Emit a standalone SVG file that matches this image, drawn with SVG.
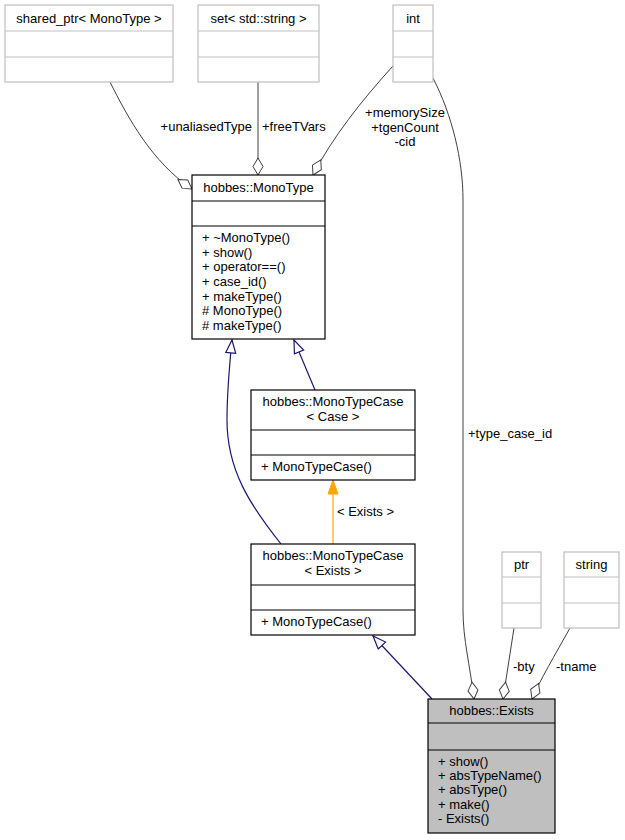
<svg xmlns="http://www.w3.org/2000/svg" width="625" height="840" viewBox="0 0 625 840">
<style>
text{font-family:"Liberation Sans",Arial,sans-serif;font-size:13px;fill:#000}
.c{text-anchor:middle}
.e{text-anchor:end}
.box{fill:#fff;stroke:#000;stroke-width:1.2}
.gbox{fill:#fff;stroke:#bfbfbf;stroke-width:1.2}
.cur{fill:#bfbfbf;stroke:#000;stroke-width:1.2}
.ln{stroke:#000;stroke-width:1.2}
.gln{stroke:#bfbfbf;stroke-width:1.2}
.use{fill:none;stroke:#404040;stroke-width:1;marker-end:url(#dia)}
.inh{fill:none;stroke:#191970;stroke-width:1.2;marker-end:url(#tri)}
.tmpl{fill:none;stroke:#ffa500;stroke-width:1.2;marker-end:url(#otri)}
</style>
<defs>
<marker id="tri" markerUnits="userSpaceOnUse" markerWidth="16" markerHeight="14" viewBox="0 0 16 14" refX="14" refY="7" orient="auto"><path d="M1,2 L14,7 L1,12 Z" fill="#fff" stroke="#191970" stroke-width="1.2"/></marker>
<marker id="otri" markerUnits="userSpaceOnUse" markerWidth="16" markerHeight="14" viewBox="0 0 16 14" refX="15" refY="7" orient="auto"><path d="M1,2 L15,7 L1,12 Z" fill="#ffa500" stroke="#ffa500" stroke-width="1"/></marker>
<marker id="dia" markerUnits="userSpaceOnUse" markerWidth="20" markerHeight="14" viewBox="0 0 20 14" refX="18" refY="7" orient="auto"><path d="M1,7 L9.5,2 L18,7 L9.5,12 Z" fill="#fff" stroke="#404040" stroke-width="1"/></marker>
</defs>

<g id="connectors">
<path class="use" d="M110,82 C128,118 152,162 192,189"/>
<path class="use" d="M258,82 L258,175"/>
<path class="use" d="M393,66 C362,100 332,138 313,175"/>
<path class="use" d="M433,78 C452,115 463,160 463,200 L463,610 C463,640 470,665 474,699"/>
<path class="use" d="M514,628 L503,699"/>
<path class="use" d="M570,628 C555,655 540,680 532,699"/>
<path class="inh" d="M315,390 L294,340"/>
<path class="inh" d="M281,544 C250,505 227,470 227,420 C227,390 229,370 232,340"/>
<path class="inh" d="M432,699 L373,636"/>
<path class="tmpl" d="M333,544 L333,480"/>
<text class="e" x="252" y="131">+unaliasedType</text>
<text x="262" y="131">+freeTVars</text>
<text class="c" x="405" y="117">+memorySize</text>
<text class="c" x="405" y="132">+tgenCount</text>
<text class="c" x="405" y="146">-cid</text>
<text x="468" y="438">+type_case_id</text>
<text x="337" y="516">&lt; Exists &gt;</text>
<text x="513" y="671">-bty</text>
<text x="556" y="671">-tname</text>
</g>

<g id="shared_ptr">
<rect class="gbox" x="5" y="5" width="168" height="77"/>
<line class="gln" x1="5" y1="31" x2="173" y2="31"/>
<line class="gln" x1="5" y1="57" x2="173" y2="57"/>
<text class="c" x="89" y="23">shared_ptr&lt; MonoType &gt;</text>
</g>

<g id="set_string">
<rect class="gbox" x="198" y="5" width="121" height="77"/>
<line class="gln" x1="198" y1="31" x2="319" y2="31"/>
<line class="gln" x1="198" y1="57" x2="319" y2="57"/>
<text class="c" x="258.5" y="23">set&lt; std::string &gt;</text>
</g>

<g id="int">
<rect class="gbox" x="393" y="5" width="40" height="77"/>
<line class="gln" x1="393" y1="31" x2="433" y2="31"/>
<line class="gln" x1="393" y1="57" x2="433" y2="57"/>
<text class="c" x="413" y="23">int</text>
</g>

<g id="MonoType">
<rect class="box" x="192" y="175" width="133" height="164"/>
<line class="ln" x1="192" y1="201" x2="325" y2="201"/>
<line class="ln" x1="192" y1="226" x2="325" y2="226"/>
<text class="c" x="258.5" y="192">hobbes::MonoType</text>
<text x="202" y="242">+ ~MonoType()</text>
<text x="202" y="257">+ show()</text>
<text x="202" y="271">+ operator==()</text>
<text x="202" y="286">+ case_id()</text>
<text x="202" y="301">+ makeType()</text>
<text x="202" y="315"># MonoType()</text>
<text x="202" y="330"># makeType()</text>
</g>

<g id="MonoTypeCase_Case">
<rect class="box" x="251" y="390" width="164" height="90"/>
<line class="ln" x1="251" y1="430" x2="415" y2="430"/>
<line class="ln" x1="251" y1="455" x2="415" y2="455"/>
<text class="c" x="333" y="406">hobbes::MonoTypeCase</text>
<text class="c" x="333" y="421">&lt; Case &gt;</text>
<text x="261" y="471">+ MonoTypeCase()</text>
</g>

<g id="MonoTypeCase_Exists">
<rect class="box" x="251" y="544" width="164" height="91"/>
<line class="ln" x1="251" y1="585" x2="415" y2="585"/>
<line class="ln" x1="251" y1="610" x2="415" y2="610"/>
<text class="c" x="333" y="560">hobbes::MonoTypeCase</text>
<text class="c" x="333" y="575">&lt; Exists &gt;</text>
<text x="261" y="626">+ MonoTypeCase()</text>
</g>

<g id="ptr">
<rect class="gbox" x="502" y="552" width="39" height="76"/>
<line class="gln" x1="502" y1="577" x2="541" y2="577"/>
<line class="gln" x1="502" y1="603" x2="541" y2="603"/>
<text class="c" x="521.5" y="569">ptr</text>
</g>

<g id="string">
<rect class="gbox" x="564" y="552" width="55" height="76"/>
<line class="gln" x1="564" y1="577" x2="619" y2="577"/>
<line class="gln" x1="564" y1="603" x2="619" y2="603"/>
<text class="c" x="591.5" y="569">string</text>
</g>

<g id="Exists">
<rect class="cur" x="428" y="699" width="127" height="134"/>
<line class="ln" x1="428" y1="723" x2="555" y2="723"/>
<line class="ln" x1="428" y1="750" x2="555" y2="750"/>
<text class="c" x="491.5" y="715">hobbes::Exists</text>
<text x="438" y="766">+ show()</text>
<text x="438" y="780">+ absTypeName()</text>
<text x="438" y="794">+ absType()</text>
<text x="438" y="809">+ make()</text>
<text x="438" y="823">- Exists()</text>
</g>
</svg>
